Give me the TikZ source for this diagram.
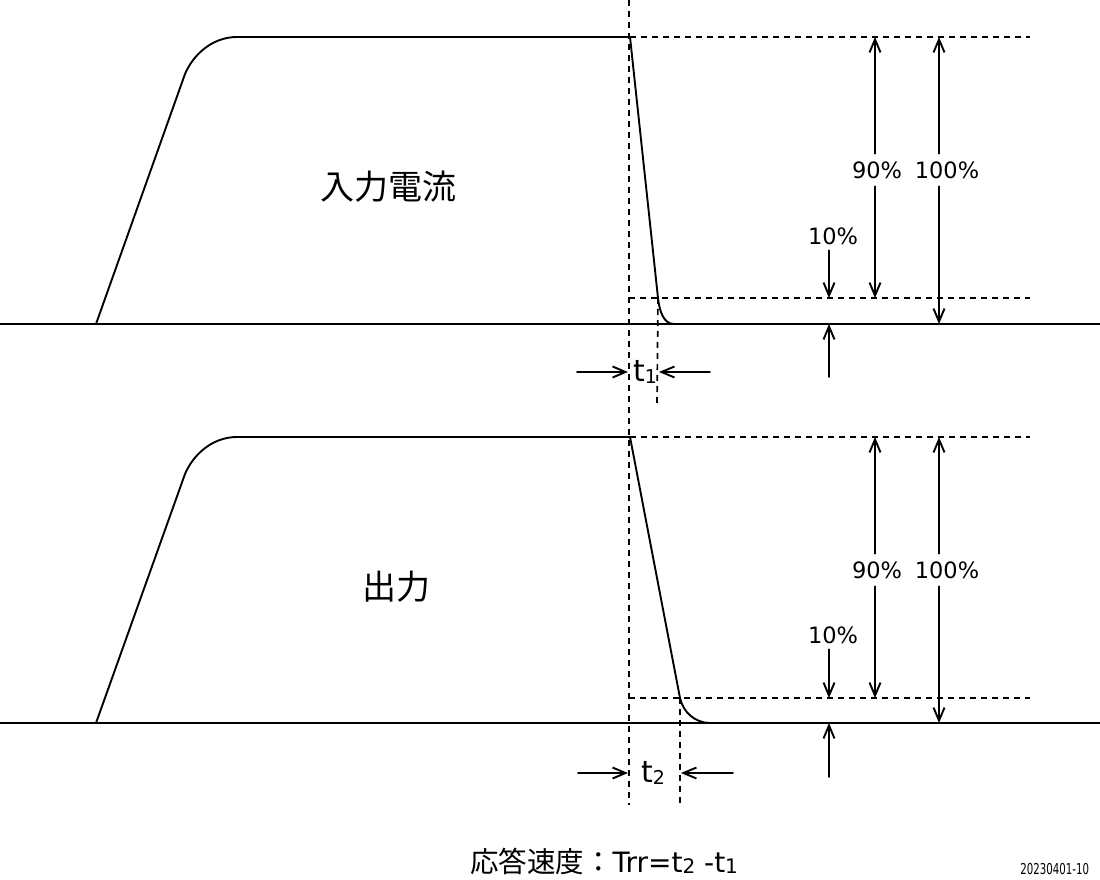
\documentclass[tikz,border=0pt]{standalone}
\usepackage{fontspec}
\setmainfont{DejaVu Sans}
\newfontfamily\jp{Noto Sans CJK JP}
\usetikzlibrary{arrows.meta}
\begin{document}
\begin{tikzpicture}[x=1pt,y=-1pt,line join=round,line cap=round,line width=1.9pt,
	>={Straight Barb[length=13pt,width=11pt]},
	dline/.style={line cap=butt,dash pattern=on 6pt off 5pt,line width=1.7pt},
	pct/.style={font=\fontsize{22.5}{22.5}\selectfont,inner sep=7pt},
	tlbl/.style={font=\fontsize{30}{30}\selectfont,inner sep=0pt}]
	\useasboundingbox (0,0) rectangle (1100,880);
	\path (0,324)coordinate(a0) (1100,324)coordinate(a9)
	(96,324)coordinate(a1) (185,74)coordinate(a2) (237,37)coordinate(a3)
	(630,37)coordinate(a4) (658,298)coordinate(a5) (674,324)coordinate(a6);
	\path (0,723)coordinate(b0) (1100,723)coordinate(b9)
	(96,723)coordinate(b1) (185,474)coordinate(b2) (237,437)coordinate(b3)
	(630,437)coordinate(b4) (680,698)coordinate(b5) (710,723)coordinate(b6);
	\draw (a0)--(a9);
	\draw (a1)--(a2) .. controls (193,55) and (212,37) .. (a3)--(a4)--(a5)
	.. controls (659.5,312) and (664,324) .. (a6);
	\draw (b0)--(b9);
	\draw (b1)--(b2) .. controls (193,455) and (212,437) .. (b3)--(b4)--(b5)
	.. controls (683,712) and (695,723) .. (b6);
	\path (629,0)coordinate(v0) (629,805)coordinate(v9)
	(629,298)coordinate(k1) (1030,298)coordinate(k2) (1030,37)coordinate(k3)
	(657,405)coordinate(k4)
	(629,698)coordinate(m1) (1030,698)coordinate(m2) (1030,437)coordinate(m3)
	(680,805)coordinate(m4);
	\draw[dline] (v0)--(v9);
	\draw[dline] (a4)--(k3);
	\draw[dline] (k1)--(k2);
	\draw[dline] (k1-|a5)--(k4);
	\draw[dline] (b4)--(m3);
	\draw[dline] (m1)--(m2);
	\draw[dline] (b5)--(m4);
	\path (877,170)node[pct](p90){90\%}
	(947,170)node[pct](p100){100\%}
	(833,236)node[pct,inner sep=5pt](p10){10\%}
	(875,37)coordinate(u90) (875,298)coordinate(d90)
	(939,37)coordinate(u100) (939,324)coordinate(d100)
	(829,298)coordinate(d10) (829,324)coordinate(e10) (829,377)coordinate(f10);
	\path (877,570)node[pct](q90){90\%}
	(947,570)node[pct](q100){100\%}
	(833,635)node[pct,inner sep=5pt](q10){10\%}
	(875,437)coordinate(w90) (875,698)coordinate(x90)
	(939,437)coordinate(w100) (939,723)coordinate(x100)
	(829,698)coordinate(x10) (829,723)coordinate(y10) (829,777)coordinate(z10);
	\draw[->] (p90.north-|u90)--(u90);
	\draw[->] (p90.south-|u90)--(d90);
	\draw[->] (p100.north-|u100)--(u100);
	\draw[->] (p100.south-|u100)--(d100);
	\draw[->] (p10.south-|d10)--(d10);
	\draw[->] (f10)--(e10);
	\draw[->] (q90.north-|w90)--(w90);
	\draw[->] (q90.south-|w90)--(x90);
	\draw[->] (q100.north-|w100)--(w100);
	\draw[->] (q100.south-|w100)--(x100);
	\draw[->] (q10.south-|x10)--(x10);
	\draw[->] (z10)--(y10);
	\path (645,372)node[tlbl](t1){t\raisebox{-2pt}{\fontsize{19}{19}\selectfont 1}}
	(577,372)coordinate(t1a) (628,372)coordinate(t1b)
	(710,372)coordinate(t1c) (659,372)coordinate(t1d);
	\path (653,773)node[tlbl](t2){t\raisebox{-2pt}{\fontsize{19}{19}\selectfont 2}}
	(578,773)coordinate(t2a) (628,773)coordinate(t2b)
	(733,773)coordinate(t2c) (681,773)coordinate(t2d);
	\draw[->] (t1a)--(t1b);
	\draw[->] (t1c)--(t1d);
	\draw[->] (t2a)--(t2b);
	\draw[->] (t2c)--(t2d);
	\path (388,187)node[font=\jp\fontsize{34}{34}\selectfont](in){入力電流}
	(396,587)node[font=\jp\fontsize{34}{34}\selectfont](out){出力};
	\path (604,872)node[anchor=base,inner sep=0pt](trr){{\jp\fontsize{28.5}{28.5}\selectfont 応答速度：}{\fontsize{28}{28}\selectfont Trr=t\raisebox{-1.5pt}{\fontsize{20}{20}\selectfont 2} -t\raisebox{-1.5pt}{\fontsize{20}{20}\selectfont 1}}}
	(1090,869)node[anchor=east,inner sep=0pt](date){\scalebox{0.68}[1]{\fontsize{15}{15}\selectfont 20230401-10}};
\end{tikzpicture}
\end{document}
